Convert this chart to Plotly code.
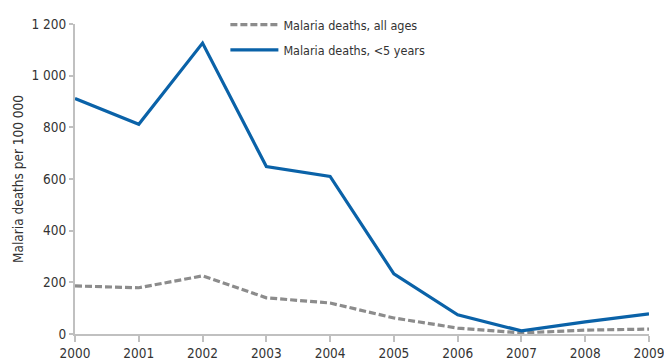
import plotly.graph_objects as go

years = [2000, 2001, 2002, 2003, 2004, 2005, 2006, 2007, 2008, 2009]
all_ages = [186, 179, 225, 140, 120, 62, 23, 4, 15, 19]
under5 = [912, 812, 1126, 648, 610, 233, 74, 12, 47, 78]
y_ticks = [0, 200, 400, 600, 800, 1000, 1200]
y_ticktext = ["0", "200", "400", "600", "800", "1 000", "1 200"]

FONT = "DejaVu Sans Condensed, Liberation Sans Narrow, sans-serif"

fig = go.Figure()
fig.add_trace(go.Scatter(
    x=years, y=all_ages, mode="lines", name="Malaria deaths, all ages",
    line=dict(color="#8c8c8c", width=3.2, dash="7px,3px"), legendgroup="a"))
fig.add_trace(go.Scatter(
    x=years, y=under5, mode="lines", name="Malaria deaths, <5 years",
    line=dict(color="#0a62a8", width=3.2), legendgroup="b"))

fig.update_layout(
    width=664, height=363,
    margin=dict(l=75, r=15, t=24, b=29, autoexpand=False),
    paper_bgcolor="white", plot_bgcolor="white",
    font=dict(family=FONT, size=14, color="#333333"),
    showlegend=True,
    legend=dict(x=0.262, y=1.045, xanchor="left", yanchor="top",
                font=dict(size=12.5, color="#333333"),
                bgcolor="rgba(0,0,0,0)", tracegroupgap=6,
                traceorder="grouped", itemwidth=48),
    xaxis=dict(range=[2000, 2009], tickvals=years, showgrid=False,
               showline=True, linecolor="#c0c0c0", linewidth=2,
               ticks="outside", ticklen=6, tickcolor="#c0c0c0", tickwidth=1.5,
               tickfont=dict(size=13.5, color="#333333"), zeroline=False,
               automargin=False, ticklabeloverflow="allow"),
    yaxis=dict(range=[0, 1200], tickvals=y_ticks, ticktext=y_ticktext,
               showgrid=False, showline=True, linecolor="#c0c0c0", linewidth=2,
               ticks="outside", ticklen=4, tickcolor="#c0c0c0", tickwidth=1.5,
               tickfont=dict(size=13.5, color="#333333"), zeroline=False,
               automargin=False,
               title=dict(text="Malaria deaths per 100 000",
                          font=dict(size=13.5, color="#333333"), standoff=5)),
)

fig.write_html("out.html", config={"displayModeBar": False},
               post_script="document.body.style.margin='0';")
